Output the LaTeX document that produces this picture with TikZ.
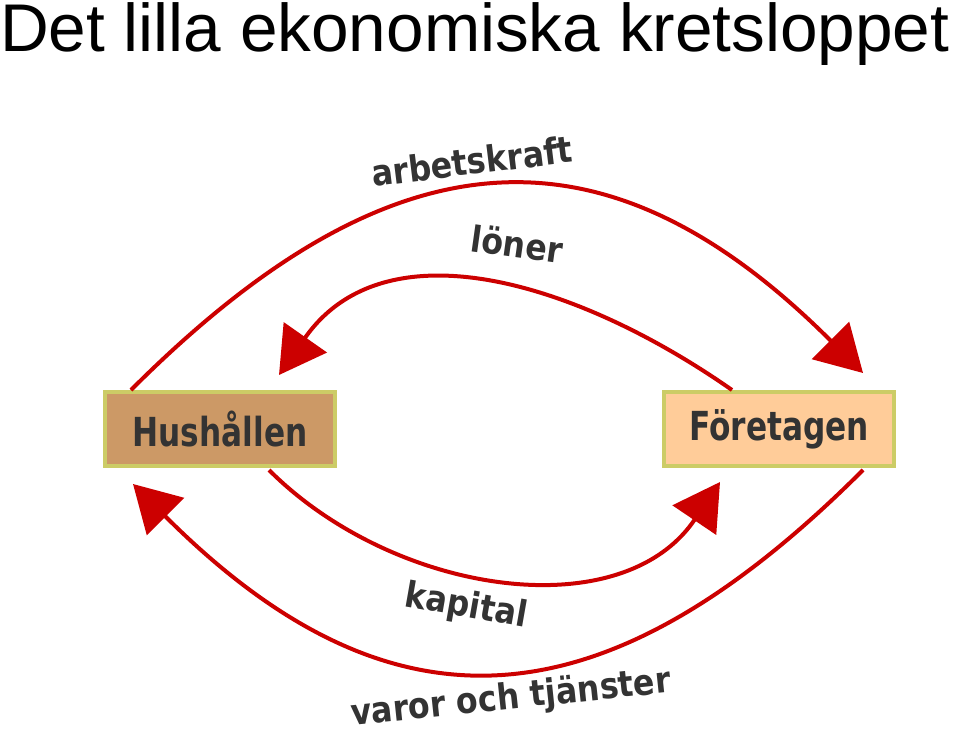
\documentclass[tikz,border=0pt]{standalone}
\usepackage{fontspec}
\usepackage{xcolor}
\usepackage{tikz}
\usetikzlibrary{arrows.meta}
\setmainfont{Liberation Sans}
\newfontfamily\labfont{DejaVu Sans Bold}[FakeStretch=0.88]
\newfontfamily\boxfont{DejaVu Sans Bold}[FakeStretch=0.78]
\definecolor{flowred}{RGB}{204,0,0}
\definecolor{boxline}{RGB}{204,204,102}
\definecolor{husfill}{RGB}{204,153,102}
\definecolor{forefill}{RGB}{255,204,153}
\definecolor{labgray}{RGB}{51,51,51}
\tikzset{
  box/.style={draw=boxline, line width=4pt, minimum width=230pt, minimum height=74pt,
    inner sep=0pt, text=labgray, font=\boxfont\fontsize{40}{46}\selectfont},
  flow/.style={draw=flowred, line width=4pt, -{Triangle[length=46pt,width=52pt]}},
  lab/.style={text=labgray, inner sep=0pt, font=\labfont\fontsize{36}{42}\selectfont}
}

\begin{document}
\begin{tikzpicture}[x=1pt, y=1pt]
                                \useasboundingbox (0, 0) rectangle (960, -733);
                                \fill[white] (0, 0) rectangle (960, -733);

                                \node (title) at (0, -52) [anchor=base west, inner sep=0pt, font=\fontsize{67.5}{78}\selectfont] {Det lilla ekonomiska kretsloppet};

                                \node (hus) at (220, -429) [box, fill=husfill] {Hushållen};
                                \node (fore) at (779, -429) [box, fill=forefill] {Företagen};

                                \draw[flow] ([xshift=28pt]hus.north west) to [out=45, in=135, looseness=1.28] ([xshift=-33pt, yshift=17pt]fore.north east);
                                \draw[flow] ([xshift=70pt]fore.north west) to [out=145, in=55, looseness=1.05] ([xshift=-58pt, yshift=15pt]hus.north east);
                                \draw[flow] ([xshift=-68pt, yshift=-2pt]hus.south east) to [out=-45, in=-124, looseness=1.0] ([xshift=58pt, yshift=-14pt]fore.south west);
                                \draw[flow] ([xshift=-33pt, yshift=-2pt]fore.south east) to [out=-135, in=-45, looseness=1.28] ([xshift=30pt, yshift=-16pt]hus.south west);

                                \node (arbetskraft) at (472, -161) [lab, rotate=7] {arbetskraft};
                                \node (loner) at (517, -244) [lab, rotate=-8] {löner};
                                \node (kapital) at (466, -607) [lab, rotate=-10] {kapital};
                                \node (varor) at (511, -699) [lab, rotate=6] {varor och tjänster};
                            \end{tikzpicture}
\end{document}
